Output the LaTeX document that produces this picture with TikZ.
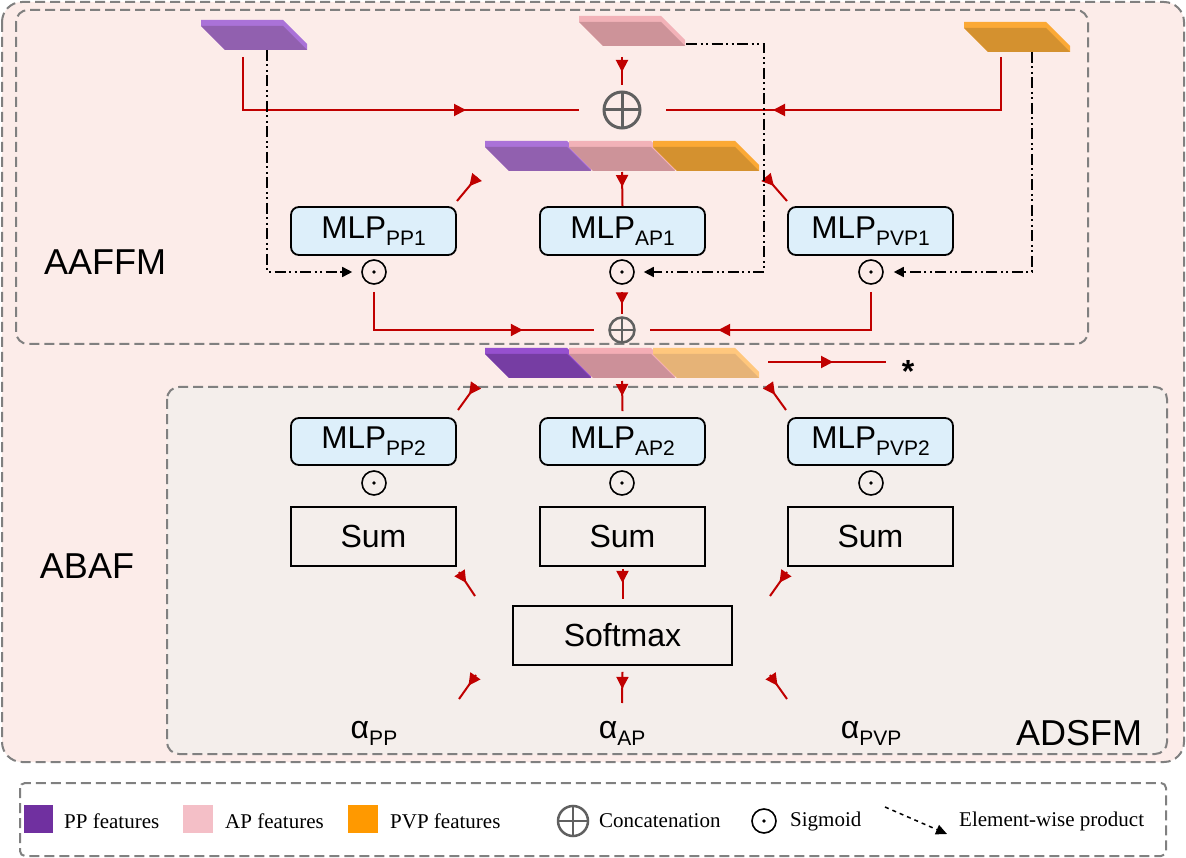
\documentclass[tikz,border=0pt]{standalone}
\usepackage{fontspec}
\setmainfont{Liberation Sans}
\newfontfamily\legendfont{Liberation Serif}
\usetikzlibrary{arrows.meta,decorations.markings}
\definecolor{redl}{HTML}{C00000}
\definecolor{outerbg}{HTML}{FCECE9}
\definecolor{adsbg}{HTML}{F4EEEB}
\definecolor{boxgray}{HTML}{808080}
\definecolor{mlpblue}{HTML}{DDEFFA}
\definecolor{plusgray}{HTML}{606060}
\definecolor{ppM}{HTML}{9160AF}
\definecolor{ppL}{HTML}{AA72D8}
\definecolor{apM}{HTML}{CD9399}
\definecolor{apL}{HTML}{F2B2B8}
\definecolor{pvM}{HTML}{D4912F}
\definecolor{pvL}{HTML}{FBA935}
\definecolor{ppoM}{HTML}{763DA3}
\definecolor{ppoL}{HTML}{9650CF}
\definecolor{apoM}{HTML}{CC9099}
\definecolor{apoL}{HTML}{F4ADB5}
\definecolor{pvoM}{HTML}{E6B377}
\definecolor{pvoL}{HTML}{FFC77D}
\definecolor{legpp}{HTML}{7030A0}
\definecolor{legap}{HTML}{F4BFC7}
\definecolor{legpv}{HTML}{FF9900}
\newcommand\featslab[4]{%
  \fill[#4] (#1,#2) -- ++(82,0) -- ++(24,24) -- ++(0,6) -- ++(-82,0) -- ++(-24,-24) -- cycle;
  \fill[#3] (#1,#2+6) -- ++(82,0) -- ++(24,24) -- ++(-82,0) -- cycle;}
\newcommand\sbs[1]{\raisebox{-7pt}{\fontsize{21}{21}\selectfont #1}}
\tikzset{
  flow/.style={draw=redl, color=redl, line width=2pt, postaction={decorate},
    decoration={markings, mark=at position #1 with {\arrow{Triangle[length=12pt,width=12pt]}}}},
  flow/.default=15pt,
  ddot/.style={draw=black, line width=1.6pt,
    dash pattern=on 11pt off 3.5pt on 2pt off 3.5pt on 2pt off 3.5pt,
    -{Triangle[length=10pt,width=10pt]}},
  regionbox/.style={draw=boxgray, line width=2pt, dash pattern=on 10pt off 5pt},
  mlpbox/.style={draw=black, line width=1.8pt, fill=mlpblue, rounded corners=8pt,
    minimum width=165pt, minimum height=48pt, inner sep=0pt, font=\fontsize{31.5}{31.5}\selectfont},
  plainbox/.style={draw=black, line width=1.8pt, minimum height=59pt, inner sep=0pt,
    font=\fontsize{32}{32}\selectfont},
  sig/.style={circle, draw=black, line width=1.6pt, minimum size=24pt, inner sep=0pt,
    path picture={\fill[black] (path picture bounding box.center) circle (1.8pt);}},
  cat/.style={circle, draw=plusgray, line width=#1, inner sep=0pt,
    path picture={\draw[plusgray, line width=#1] (path picture bounding box.north) -- (path picture bounding box.south)
      (path picture bounding box.west) -- (path picture bounding box.east);}},
  modlabel/.style={font=\fontsize{36}{36}\selectfont, inner sep=0pt},
  alab/.style={font=\fontsize{32}{32}\selectfont, inner sep=0pt},
  legtext/.style={font=\legendfont\fontsize{21}{21}\selectfont, anchor=west, inner sep=0pt},
}
\begin{document}
\begin{tikzpicture}[x=1pt,y=-1pt]
\useasboundingbox (0,0) rectangle (1186,858);
% region boxes
\draw[regionbox, fill=outerbg, rounded corners=20pt] (2,2) rectangle (1184,762);
\draw[regionbox, rounded corners=12pt] (16,10) rectangle (1088,344);
\draw[regionbox, fill=adsbg, rounded corners=12pt] (167,387) rectangle (1167,754);
\draw[regionbox, fill=white, rounded corners=5pt] (20,783) rectangle (1166,856);
% labels
\node[modlabel] (lAAFFM) at (105,262) {AAFFM};
\node[modlabel] (lABAF) at (87,566) {ABAF};
\node[modlabel] (lADSFM) at (1079,733) {ADSFM};
% top feature slabs
\featslab{201}{20}{ppM}{ppL}
\featslab{579}{16}{apM}{apL}
\featslab{964}{22}{pvM}{pvL}
% concatenated slabs
\featslab{485}{141}{ppM}{ppL}
\featslab{569}{141}{apM}{apL}
\featslab{653}{141}{pvM}{pvL}
% output slabs
\featslab{485}{348}{ppoM}{ppoL}
\featslab{569}{348}{apoM}{apoL}
\featslab{653}{348}{pvoM}{pvoL}
% coordinates
\coordinate (ppA) at (243,57);
\coordinate (ppB) at (267,50);
\coordinate (apA) at (622,57);
\coordinate (apB) at (686,44);
\coordinate (apC) at (764,272);
\coordinate (pvA) at (1001,57);
\coordinate (pvB) at (1032,52);
\coordinate (catS) at (622,172);
\coordinate (d1a) at (477,177); \coordinate (d1b) at (457,201);
\coordinate (d2a) at (766,177); \coordinate (d2b) at (787,201);
\coordinate (outE) at (768,362); \coordinate (starW) at (886,362);
\coordinate (os) at (622,381);
\coordinate (e1a) at (476,385); \coordinate (e1b) at (458,410);
\coordinate (e2a) at (768,385); \coordinate (e2b) at (786,410);
\coordinate (f1a) at (459,572); \coordinate (f1b) at (475,596);
\coordinate (f2a) at (787,572); \coordinate (f2b) at (770,596);
\coordinate (g1a) at (476,675); \coordinate (g1b) at (459,699);
\coordinate (g2a) at (770,675); \coordinate (g2b) at (787,699);
\coordinate (g3b) at (622,703);
% nodes
\node[cat=3pt, minimum size=36pt] (cat1) at (622,110) {};
\node[mlpbox] (mlppp1) at (373.5,231) {MLP\sbs{PP1}};
\node[mlpbox] (mlpap1) at (622.5,231) {MLP\sbs{AP1}};
\node[mlpbox] (mlppv1) at (870.5,231) {MLP\sbs{PVP1}};
\node[sig] (sigpp1) at (374,272) {};
\node[sig] (sigap1) at (622,272) {};
\node[sig] (sigpv1) at (871,272) {};
\node[cat=2.5pt, minimum size=25pt] (cat2) at (622,330) {};
\node[font=\bfseries\fontsize{32}{32}\selectfont, inner sep=0pt] (star) at (908,371) {*};
\node[mlpbox, minimum height=47pt] (mlppp2) at (373.5,441.5) {MLP\sbs{PP2}};
\node[mlpbox, minimum height=47pt] (mlpap2) at (622.5,441.5) {MLP\sbs{AP2}};
\node[mlpbox, minimum height=47pt] (mlppv2) at (870.5,441.5) {MLP\sbs{PVP2}};
\node[sig] (sigpp2) at (374,483) {};
\node[sig] (sigap2) at (622,483) {};
\node[sig] (sigpv2) at (871,483) {};
\node[plainbox, minimum width=165pt] (sumpp) at (373.5,536.5) {Sum};
\node[plainbox, minimum width=165pt] (sumap) at (622.5,536.5) {Sum};
\node[plainbox, minimum width=165pt] (sumpv) at (870.5,536.5) {Sum};
\node[plainbox, minimum width=219pt] (softmax) at (622.5,635.5) {Softmax};
\node[alab] (alpp) at (374,733) {α\sbs{PP}};
\node[alab] (alap) at (622,733) {α\sbs{AP}};
\node[alab] (alpv) at (871,733) {α\sbs{PVP}};
% red flows (top)
\draw[flow=276pt] (ppA) |- ([xshift=-24pt]cat1.west);
\draw[flow=281pt] (pvA) |- ([xshift=24pt]cat1.east);
\draw[flow=15pt] (apA) -- ([yshift=5pt]cat1.north);
\draw[flow=15pt] (catS) -- (mlpap1.north);
\draw[flow=12pt] (d1a) -- (d1b);
\draw[flow=12pt] (d2a) -- (d2b);
% dash-dot element-wise product lines
\draw[ddot, shorten >=9pt] (ppB) |- (sigpp1.west);
\draw[ddot, shorten >=9pt] (apB) -| (apC) -- (sigap1.east);
\draw[ddot, shorten >=10pt] (pvB) |- (sigpv1.east);
% bottom of AAFFM
\draw[flow=187pt] ([yshift=-7pt]sigpp1.south) |- ([xshift=-14pt]cat2.west);
\draw[flow=191pt] ([yshift=-7pt]sigpv1.south) |- ([xshift=14pt]cat2.east);
\draw[flow=12.5pt] ([yshift=-7pt]sigap1.south) -- ([yshift=2pt]cat2.north);
\draw[flow=65pt] (outE) -- (starW);
% ADSFM flows
\draw[flow=15pt] (os) -- ([yshift=6pt]mlpap2.north);
\draw[flow=12pt] (e1a) -- (e1b);
\draw[flow=12pt] (e2a) -- (e2b);
\draw[flow=13pt] (f1a) -- (f1b);
\draw[flow=13pt] (f2a) -- (f2b);
\draw[flow=14pt] ([yshift=-2pt]sumap.south) -- ([yshift=6pt]softmax.north);
\draw[flow=13pt] (g1a) -- (g1b);
\draw[flow=13pt] (g2a) -- (g2b);
\draw[flow=17pt] ([yshift=-6pt]softmax.south) -- (g3b);
% legend
\node[fill=legpp, minimum width=29pt, minimum height=28pt, inner sep=0pt] (lsq1) at (38.5,819) {};
\node[legtext] (lt1) at (64,821) {PP features};
\node[fill=legap, minimum width=30pt, minimum height=28pt, inner sep=0pt] (lsq2) at (198,819) {};
\node[legtext] (lt2) at (225,821) {AP features};
\node[fill=legpv, minimum width=30pt, minimum height=28pt, inner sep=0pt] (lsq3) at (363,819) {};
\node[legtext] (lt3) at (390,821) {PVP features};
\node[cat=2.5pt, minimum size=30pt] (lcat) at (573,821) {};
\node[legtext] (lt4) at (599,821) {Concatenation};
\node[sig] (lsig) at (764,821) {};
\node[legtext] (lt5) at (790,821) {Sigmoid};
\coordinate (la1) at (885,807); \coordinate (la2) at (947,834);
\draw[black, line width=1.5pt, dash pattern=on 4pt off 4pt, -{Triangle[length=11pt,width=10pt]}] (la1) -- (la2);
\node[legtext] (lt6) at (959,821) {Element-wise product};
\end{tikzpicture}
\end{document}
